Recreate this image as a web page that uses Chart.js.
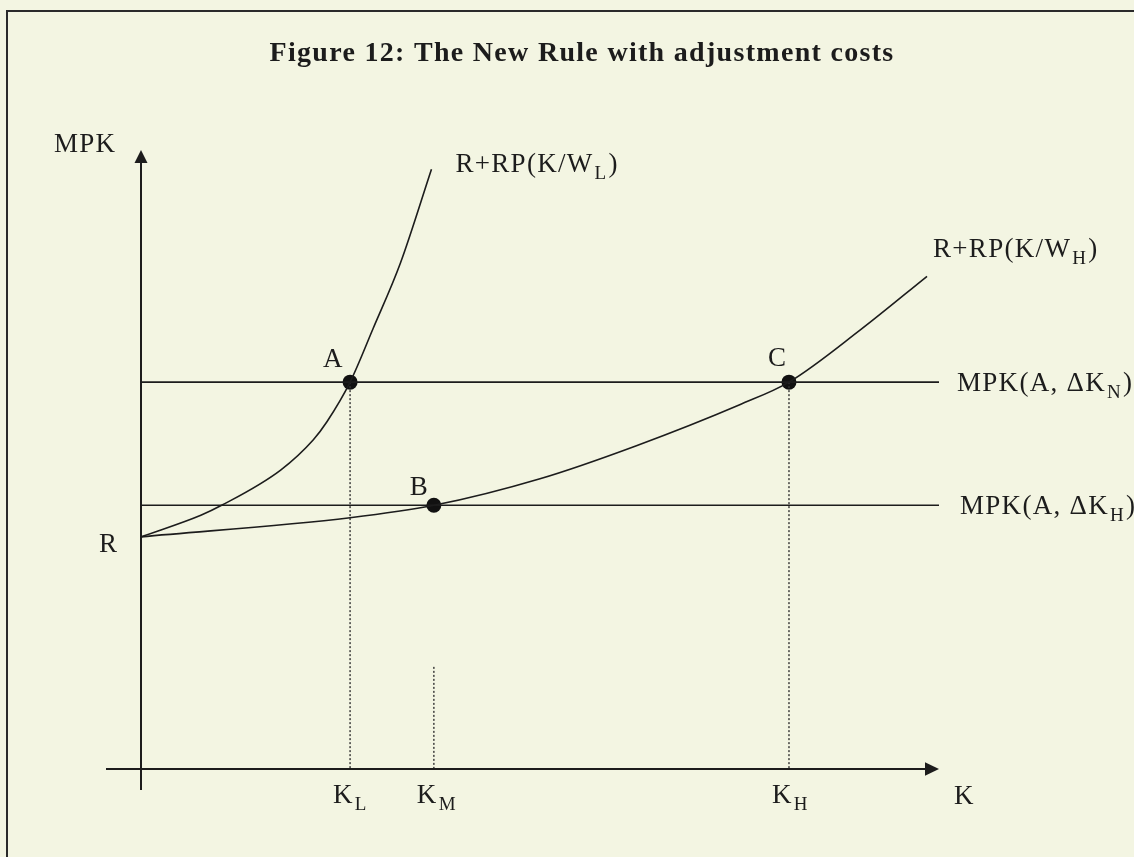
<!DOCTYPE html>
<html>
<head>
<meta charset="utf-8">
<title>Figure 12: The New Rule with adjustment costs</title>
<script src="https://cdn.jsdelivr.net/npm/chart.js@4/dist/chart.umd.min.js"></script>
<style>
    html, body { margin: 0; padding: 0; background: #f3f5e2; }
    #wrap { position: relative; width: 1134px; height: 857px; overflow: hidden; }
    #frame { position: absolute; left: 6px; top: 10px; right: -10px; bottom: -10px;
             border-top: 2px solid #2a2a2a; border-left: 2px solid #2a2a2a; }
    canvas { position: absolute; left: 0; top: 0; }
</style>
</head>
<body>
<div id="wrap">
    <div id="frame"></div>
    <canvas id="chart"></canvas>
</div>
<script>
// Данные графика (условные единицы: K по оси X, MPK по оси Y, 0..100)
const titleText = 'Figure 12: The New Rule with adjustment costs';

const rValue = 37.5;          // точка R на оси MPK
const mpkN = 62.5;            // уровень MPK(A, ΔK_N)
const mpkH = 42.6;            // уровень MPK(A, ΔK_H)

// кривая R+RP(K/W_L)
const curveLX = [0, 7.5, 10.1, 17.5, 21.6, 23.3, 26.2, 29.1, 32.5, 36.4];
const curveLY = [37.5, 41.0, 42.6, 48.3, 53.2, 56.1, 62.5, 71.2, 81.7, 96.9];

// кривая R+RP(K/W_H)
const curveHX = [0, 26.2, 36.7, 50, 62, 75.1, 81.2, 90.1, 98.5];
const curveHY = [37.5, 40.6, 42.6, 46.9, 52.2, 58.9, 62.5, 70.9, 79.6];

// точки равновесия A, B, C
const pointNames = ['A', 'B', 'C'];
const pointX = [26.2, 36.7, 81.2];
const pointY = [62.5, 42.6, 62.5];

// подписи на оси K
const tickBase = ['K', 'K', 'K'];
const tickSub = ['L', 'M', 'H'];
const tickX = [26.2, 36.7, 81.2];
const tickLineTop = [62.5, 16.5, 62.5];  // где начинаются пунктирные линии

const ink = '#1c1c1c';
const serif = '"Liberation Serif", "Times New Roman", serif';

function toPoints(xs, ys) {
    return xs.map((x, i) => ({ x: x, y: ys[i] }));
}

const datasets = [
    {
        data: toPoints(curveLX, curveLY),
        showLine: true, borderColor: ink, borderWidth: 1.6,
        pointRadius: 0, cubicInterpolationMode: 'monotone'
    },
    {
        data: toPoints(curveHX, curveHY),
        showLine: true, borderColor: ink, borderWidth: 1.6,
        pointRadius: 0, cubicInterpolationMode: 'monotone'
    },
    {
        data: [{ x: 0, y: mpkN }, { x: 100, y: mpkN }],
        showLine: true, borderColor: ink, borderWidth: 1.6, pointRadius: 0
    },
    {
        data: [{ x: 0, y: mpkH }, { x: 100, y: mpkH }],
        showLine: true, borderColor: ink, borderWidth: 1.6, pointRadius: 0
    }
];

// пунктирные вертикали
tickX.forEach((x, i) => {
    datasets.push({
        data: [{ x: x, y: tickLineTop[i] }, { x: x, y: 0 }],
        showLine: true, borderColor: '#333', borderWidth: 1.4,
        borderDash: [2, 2], pointRadius: 0
    });
});

datasets.push({
    data: toPoints(pointX, pointY),
    showLine: false, pointRadius: 7.5, pointBackgroundColor: '#111',
    pointBorderColor: '#111', pointBorderWidth: 0
});

function drawSub(ctx, base, sub, tail, x, y) {
    ctx.font = '27px ' + serif;
    ctx.fillText(base, x, y);
    let w = ctx.measureText(base).width;
    ctx.font = '19px ' + serif;
    ctx.fillText(sub, x + w + 1, y + 7);
    w += ctx.measureText(sub).width + 2;
    if (tail) {
        ctx.font = '27px ' + serif;
        ctx.fillText(tail, x + w, y);
    }
}

const annotations = {
    id: 'annotations',
    afterDraw(chart) {
        const ctx = chart.ctx;
        const sx = chart.scales.x, sy = chart.scales.y;
        const x0 = sx.getPixelForValue(0), y0 = sy.getPixelForValue(0);
        const xEnd = sx.getPixelForValue(100), yEnd = sy.getPixelForValue(100);

        ctx.save();
        ctx.strokeStyle = ink;
        ctx.fillStyle = ink;
        ctx.lineWidth = 2;

        // ось MPK
        ctx.beginPath();
        ctx.moveTo(x0, y0 + 21);
        ctx.lineTo(x0, yEnd + 12);
        ctx.stroke();
        ctx.beginPath();
        ctx.moveTo(x0, yEnd);
        ctx.lineTo(x0 - 6.5, yEnd + 13);
        ctx.lineTo(x0 + 6.5, yEnd + 13);
        ctx.closePath();
        ctx.fill();

        // ось K
        ctx.beginPath();
        ctx.moveTo(x0 - 35, y0);
        ctx.lineTo(xEnd - 12, y0);
        ctx.stroke();
        ctx.beginPath();
        ctx.moveTo(xEnd, y0);
        ctx.lineTo(xEnd - 14, y0 - 6.7);
        ctx.lineTo(xEnd - 14, y0 + 6.7);
        ctx.closePath();
        ctx.fill();

        ctx.textBaseline = 'alphabetic';
        ctx.letterSpacing = '1.3px';

        // заголовок
        ctx.font = 'bold 28px ' + serif;
        ctx.textAlign = 'center';
        ctx.fillText(titleText, 582, 61);
        ctx.textAlign = 'left';

        ctx.font = '27px ' + serif;
        ctx.fillText('MPK', x0 - 87, yEnd + 2);
        ctx.fillText('R', x0 - 42, sy.getPixelForValue(rValue) + 15);
        ctx.fillText('K', xEnd + 15, y0 + 35);

        // подписи точек
        const offs = { A: [-27, -15], B: [-24, -10], C: [-21, -16] };
        pointNames.forEach((n, i) => {
            ctx.font = '27px ' + serif;
            ctx.fillText(n, sx.getPixelForValue(pointX[i]) + offs[n][0],
                sy.getPixelForValue(pointY[i]) + offs[n][1]);
        });

        // подписи кривых
        const lx = curveLX[curveLX.length - 1], ly = curveLY[curveLY.length - 1];
        drawSub(ctx, 'R+RP(K/W', 'L', ')', sx.getPixelForValue(lx) + 24, sy.getPixelForValue(ly) + 3);
        const hx = curveHX[curveHX.length - 1], hy = curveHY[curveHY.length - 1];
        drawSub(ctx, 'R+RP(K/W', 'H', ')', sx.getPixelForValue(hx) + 6, sy.getPixelForValue(hy) - 19);

        // подписи горизонталей
        drawSub(ctx, 'MPK(A, ΔK', 'N', ')', xEnd + 18, sy.getPixelForValue(mpkN) + 9);
        drawSub(ctx, 'MPK(A, ΔK', 'H', ')', xEnd + 21, sy.getPixelForValue(mpkH) + 9);

        // подписи на оси K
        tickX.forEach((x, i) => {
            drawSub(ctx, tickBase[i], tickSub[i], '', sx.getPixelForValue(x) - 17, y0 + 34);
        });

        ctx.restore();
    }
};

const canvas = document.getElementById('chart');
canvas.width = 1134;
canvas.height = 857;

new Chart(canvas.getContext('2d'), {
    type: 'scatter',
    data: { datasets: datasets },
    options: {
        responsive: false,
        animation: false,
        layout: { padding: { left: 141, right: 195, top: 150, bottom: 88 } },
        scales: {
            x: { type: 'linear', min: 0, max: 100, display: false },
            y: { type: 'linear', min: 0, max: 100, display: false }
        },
        plugins: {
            legend: { display: false },
            tooltip: { enabled: false },
            title: { display: false }
        },
        elements: { line: { borderCapStyle: 'butt' } }
    },
    plugins: [annotations]
});
</script>
</body>
</html>
